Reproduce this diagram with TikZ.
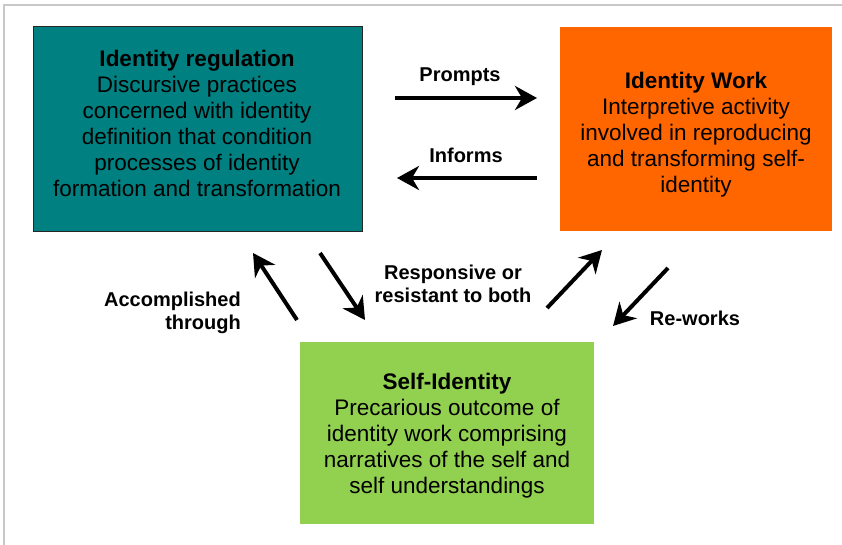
\documentclass[tikz,border=0pt]{standalone}
\usepackage{fontspec}
\setmainfont{Liberation Sans}
\usetikzlibrary{arrows.meta}
\definecolor{regteal}{HTML}{008080}
\definecolor{workorange}{HTML}{FF6600}
\definecolor{selfgreen}{HTML}{92D050}
\definecolor{framegray}{HTML}{C8C8C8}
\begin{document}
\begin{tikzpicture}[x=1pt, y=-1pt,
		>={Stealth[length=22pt, width=24pt, inset=7pt]},
		box/.style={inner sep=0pt, outer sep=0pt},
		boxtext/.style={align=center, inner sep=0pt, font=\fontsize{22.5}{26}\selectfont},
		flowlabel/.style={inner sep=0pt, font=\bfseries\fontsize{20}{22.5}\selectfont},
		flow/.style={->, line width=4pt}]
		\useasboundingbox (0,0) rectangle (842,545);
		% frame
		\coordinate (fa) at (4,545);
		\coordinate (fb) at (4,5);
		\coordinate (fc) at (842,5);
		\draw[framegray, line width=1.5pt] (fa) -- (fb) -- (fc);
		% the three boxes
		\node[box, fill=regteal, draw=black!85, line width=1pt, minimum width=329pt, minimum height=204pt] (reg) at (197.5,129) {};
		\node[box, fill=workorange, minimum width=272pt, minimum height=204pt] (work) at (696,129) {};
		\node[box, fill=selfgreen, minimum width=294pt, minimum height=182pt] (self) at (447,433) {};
		\node[boxtext] (regtext) at (197,123) {\textbf{Identity regulation}\\Discursive practices\\concerned with identity\\definition that condition\\processes of identity\\formation and transformation};
		\node[boxtext] (worktext) at (696,135) {\textbf{Identity Work}\\Interpretive activity\\involved in reproducing\\and transforming self-\\identity};
		\node[boxtext] (selftext) at (447,435.5) {\textbf{Self-Identity}\\Precarious outcome of\\identity work comprising\\narratives of the self and\\self understandings};
		% arrow ends
		\coordinate (p1) at (395,98);
		\coordinate (p2) at (537,98);
		\coordinate (i1) at (537,178);
		\coordinate (i2) at (397,178);
		\coordinate (a1) at (297,320);
		\coordinate (a2) at (253,253);
		\coordinate (r1) at (320,253);
		\coordinate (r2) at (365,320);
		\coordinate (s1) at (547,308);
		\coordinate (s2) at (602,250);
		\coordinate (w1) at (668,268);
		\coordinate (w2) at (613,326);
		\draw[flow] (p1) to (p2);
		\draw[flow] (i1) to (i2);
		\draw[flow] (a1) to (a2);
		\draw[flow] (r1) to (r2);
		\draw[flow] (s1) to (s2);
		\draw[flow] (w1) to (w2);
		% labels
		\node[flowlabel] (prompts) at (460,76.5) {Prompts};
		\node[flowlabel] (informs) at (466,155) {Informs};
		\node[flowlabel, align=right, anchor=east] (accomp) at (241,313) {Accomplished\\through};
		\node[flowlabel, align=center] (resp) at (453,284) {Responsive or\\resistant to both};
		\node[flowlabel] (reworks) at (695,318) {Re-works};
	\end{tikzpicture}
\end{document}
